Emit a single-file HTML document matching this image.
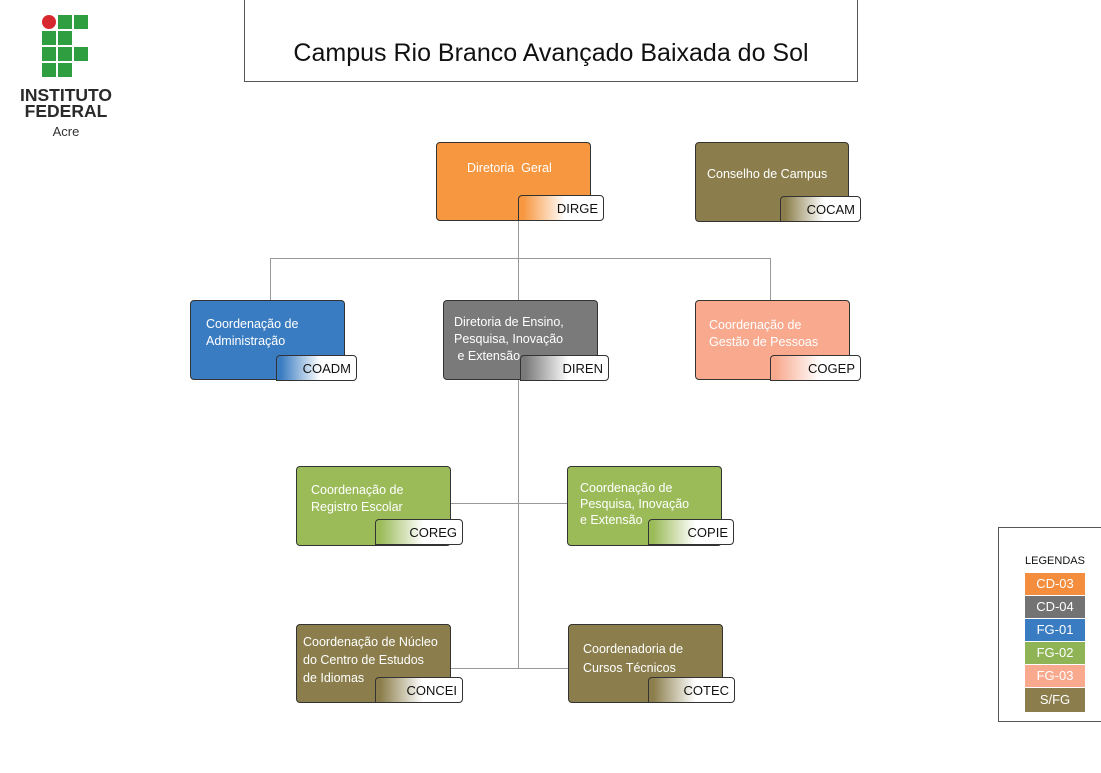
<!DOCTYPE html>
<html><head><meta charset="utf-8"><style>
body{margin:0;width:1101px;height:773px;background:#fff;position:relative;overflow:hidden;font-family:"Liberation Sans",sans-serif}
.a{position:absolute}
.box{position:absolute;border:1px solid #333;border-radius:4px;color:#fff;font-size:12.5px;line-height:17px;box-sizing:border-box}
.tag{position:absolute;border:1px solid #333;border-radius:4px 4px 4px 0;height:26px;box-sizing:border-box;font-size:13px;color:#111;text-align:right;padding:6px 5px 0 0;line-height:14px}
.l{position:absolute;background:#999}
.sq{position:absolute;width:14px;height:14px;background:#2f9e41}
.sw{position:absolute;left:1025px;width:60px;color:#fff;font-size:13px;text-align:center;line-height:22px}
</style></head><body>
<div class="a" style="left:42px;top:15px;width:14px;height:14px;border-radius:50%;background:#d7282f"></div>
<div class="sq" style="left:58px;top:15px"></div><div class="sq" style="left:74px;top:15px"></div>
<div class="sq" style="left:42px;top:31px"></div><div class="sq" style="left:58px;top:31px"></div>
<div class="sq" style="left:42px;top:47px"></div><div class="sq" style="left:58px;top:47px"></div><div class="sq" style="left:74px;top:47px"></div>
<div class="sq" style="left:42px;top:63px"></div><div class="sq" style="left:58px;top:63px"></div>
<div class="a" style="left:6px;top:87px;width:120px;text-align:center;font-weight:bold;font-size:17.5px;line-height:16px;color:#2a2a2a">INSTITUTO<br>FEDERAL</div>
<div class="a" style="left:6px;top:124px;width:120px;text-align:center;font-size:13px;color:#333">Acre</div>
<div class="a" style="left:244px;top:-1px;width:614px;height:83px;border:1px solid #555;box-sizing:border-box;text-align:center;font-size:25px;line-height:106px;color:#111">Campus Rio Branco Avançado Baixada do Sol</div>
<div class="l" style="left:518px;top:220px;width:1px;height:80px"></div>
<div class="l" style="left:270px;top:258px;width:501px;height:1px"></div>
<div class="l" style="left:270px;top:258px;width:1px;height:42px"></div>
<div class="l" style="left:770px;top:258px;width:1px;height:42px"></div>
<div class="l" style="left:518px;top:379px;width:1px;height:290px"></div>
<div class="l" style="left:450px;top:503px;width:117px;height:1px"></div>
<div class="l" style="left:450px;top:668px;width:118px;height:1px"></div>

<div class="box" style="left:436px;top:142px;width:155px;height:79px;background:#f7973f;padding:17px 0 0 30px">Diretoria&nbsp; Geral</div>
<div class="tag" style="left:518px;top:195px;width:86px;background:linear-gradient(90deg,#f7973f 5%,#fff 55%)">DIRGE</div>
<div class="box" style="left:695px;top:142px;width:154px;height:80px;background:#8b7e4c;padding:23px 0 0 11px">Conselho de Campus</div>
<div class="tag" style="left:780px;top:196px;width:81px;background:linear-gradient(90deg,#8b7e4c 5%,#fff 55%)">COCAM</div>

<div class="box" style="left:190px;top:300px;width:155px;height:80px;background:#3a7cc1;padding:15px 0 0 15px">Coordenação de<br>Administração</div>
<div class="tag" style="left:276px;top:355px;width:81px;background:linear-gradient(90deg,#3a7cc1 5%,#fff 55%)">COADM</div>
<div class="box" style="left:443px;top:300px;width:155px;height:80px;background:#7b7a7a;padding:13px 0 0 10px">Diretoria de Ensino,<br>Pesquisa, Inovação<br>&nbsp;e Extensão</div>
<div class="tag" style="left:520px;top:355px;width:89px;background:linear-gradient(90deg,#7b7a7a 5%,#fff 55%)">DIREN</div>
<div class="box" style="left:695px;top:300px;width:155px;height:80px;background:#f8a98e;padding:16px 0 0 13px">Coordenação de<br>Gestão de Pessoas</div>
<div class="tag" style="left:770px;top:355px;width:91px;background:linear-gradient(90deg,#f8a98e 5%,#fff 55%)">COGEP</div>

<div class="box" style="left:296px;top:466px;width:155px;height:80px;background:#9bbb59;padding:15px 0 0 14px">Coordenação de<br>Registro Escolar</div>
<div class="tag" style="left:375px;top:519px;width:88px;background:linear-gradient(90deg,#9bbb59 5%,#fff 55%)">COREG</div>
<div class="box" style="left:567px;top:466px;width:155px;height:80px;background:#9bbb59;padding:13px 0 0 12px;line-height:16px">Coordenação de<br>Pesquisa, Inovação<br>e Extensão</div>
<div class="tag" style="left:648px;top:519px;width:86px;background:linear-gradient(90deg,#9bbb59 5%,#fff 55%)">COPIE</div>

<div class="box" style="left:296px;top:624px;width:155px;height:79px;background:#8b7e4c;padding:8px 0 0 6px;line-height:18px">Coordenação de Núcleo<br>do Centro de Estudos<br>de Idiomas</div>
<div class="tag" style="left:375px;top:677px;width:88px;background:linear-gradient(90deg,#8b7e4c 5%,#fff 55%)">CONCEI</div>
<div class="box" style="left:568px;top:624px;width:155px;height:79px;background:#8b7e4c;padding:15px 0 0 14px;line-height:19px">Coordenadoria de<br>Cursos Técnicos</div>
<div class="tag" style="left:648px;top:677px;width:87px;background:linear-gradient(90deg,#8b7e4c 5%,#fff 55%)">COTEC</div>

<div class="a" style="left:998px;top:527px;width:110px;height:195px;border:1px solid #555;box-sizing:border-box"></div>
<div class="a" style="left:1014px;top:555px;width:82px;text-align:center;font-size:11px;color:#111">LEGENDAS</div>
<div class="sw" style="top:573px;background:#f58d3e">CD-03</div>
<div class="sw" style="top:596px;background:#747374">CD-04</div>
<div class="sw" style="top:619px;background:#3a7cc1">FG-01</div>
<div class="sw" style="top:642px;background:#8eb456">FG-02</div>
<div class="sw" style="top:665px;background:#f8a98e">FG-03</div>
<div class="sw" style="top:688px;height:24px;line-height:24px;background:#8b7e4c">S/FG</div>
</body></html>
